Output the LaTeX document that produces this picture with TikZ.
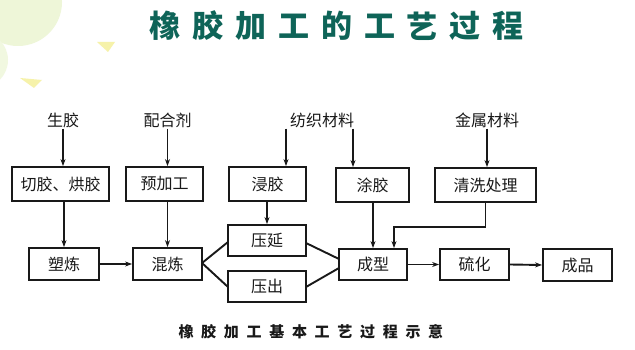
\documentclass[tikz,border=0pt]{standalone}
\usepackage{fontspec}
\newfontfamily\cjk{Noto Sans CJK SC}
\usetikzlibrary{arrows.meta}
\definecolor{titlec}{RGB}{14,100,88}
\definecolor{ink}{RGB}{25,25,25}
\definecolor{palegreen}{RGB}{238,246,216}
\definecolor{paleyellow}{RGB}{246,242,170}
\tikzset{
  stepbox/.style={draw=ink, line width=1.8pt, inner sep=0pt, text=ink,
    font=\cjk\fontsize{16}{16}\selectfont},
  lbl/.style={text=ink, inner sep=1pt, font=\cjk\fontsize{16}{16}\selectfont},
  conn/.style={draw=ink, line width=1.9pt},
  arr/.style={conn, -{Stealth[length=7pt,width=5pt]}},
  ttl/.style={text=titlec, inner sep=0pt, font=\cjk\bfseries\fontsize{31}{31}\selectfont},
  captxt/.style={text=ink, inner sep=0pt, font=\cjk\bfseries\fontsize{15}{15}\selectfont}
}
\begin{document}
\begin{tikzpicture}[x=1pt,y=-1pt]
\useasboundingbox (0,0) rectangle (635,350);
\fill[white] (0,0) rectangle (635,350);
% background decoration
\begin{scope}
\clip (0,0) rectangle (635,350);
\fill[palegreen] (18,2) circle (44);
\fill[palegreen!80] (-20,60) circle (28);
\fill[paleyellow] (97,42) -- (115,42) -- (108,52) -- cycle;
\fill[paleyellow] (20,78) -- (42,80) -- (34,88) -- cycle;
\end{scope}
% title
\foreach \c [count=\i from 0] in {橡,胶,加,工,的,工,艺,过,程}
  \node[ttl] (t\i) at (165+\i*42.9,26) {\c};
% caption
\foreach \c [count=\i from 0] in {橡,胶,加,工,基,本,工,艺,过,程,示,意}
  \node[captxt] (c\i) at (186+\i*22.7,332) {\c};
% top labels
\node[lbl] (l1) at (63,120) {生胶};
\node[lbl] (l2) at (167.5,120) {配合剂};
\node[lbl] (l3) at (322,120) {纺织材料};
\node[lbl] (l4) at (487,120) {金属材料};
% boxes
\node[stepbox, minimum width=97pt, minimum height=34pt] (b1) at (60.5,184) {切胶、烘胶};
\node[stepbox, minimum width=77pt, minimum height=34pt] (b2) at (164.5,184) {预加工};
\node[stepbox, minimum width=77pt, minimum height=34pt] (b3) at (267.5,184) {浸胶};
\node[stepbox, minimum width=73pt, minimum height=34pt] (b4) at (372.5,185) {涂胶};
\node[stepbox, minimum width=101pt, minimum height=34pt] (b5) at (485.5,185) {清洗处理};
\node[stepbox, minimum width=70pt, minimum height=32pt] (b6) at (64,264) {塑炼};
\node[stepbox, minimum width=69pt, minimum height=32pt] (b7) at (167.5,264) {混炼};
\node[stepbox, minimum width=78pt, minimum height=31pt] (b8) at (267,240.5) {压延};
\node[stepbox, minimum width=78pt, minimum height=31pt] (b9) at (267,286.5) {压出};
\node[stepbox, minimum width=68pt, minimum height=31pt] (b10) at (373,264.5) {成型};
\node[stepbox, minimum width=69pt, minimum height=31pt] (b11) at (474.5,264.5) {硫化};
\node[stepbox, minimum width=69pt, minimum height=32pt] (b12) at (577.5,265) {成品};
% helper coordinates
\coordinate (x3) at (286,0);
\coordinate (x4) at (353,0);
\coordinate (k) at (394,227);
\coordinate (m7) at (202,263);
\coordinate (p8) at (228,242);
\coordinate (p9) at (228,287);
\coordinate (q8) at (306,243);
\coordinate (q9) at (306,287);
\coordinate (r8) at (339,259);
\coordinate (r9) at (339,268);
% connectors
\draw[arr] (l1.south) -- (l1.south |- b1.north);
\draw[arr] (b6.north |- b1.south) -- (b6.north);
\draw[arr] (l2.south) -- (l2.south |- b2.north);
\draw[arr] (b7.north |- b2.south) -- (b7.north);
\draw[arr] (l3.south -| x3) -- (x3 |- b3.north);
\draw[arr] (l3.south -| x4) -- (x4 |- b4.north);
\draw[arr] (b8.north |- b3.south) -- (b8.north);
\draw[arr] (l4.south) -- (l4.south |- b5.north);
\draw[arr] (b10.north |- b4.south) -- (b10.north);
\draw[arr] (b5.south) |- (k) -- (k |- b10.north);
\draw[arr] (b6.east) -- (b7.west);
\draw[conn] (m7) -- (p8);
\draw[conn] (m7) -- (p9);
\draw[conn] (q8) -- (r8);
\draw[conn] (q9) -- (r9);
\draw[arr] (b10.east) -- (b11.west);
\draw[arr] (b11.east) -- (b12.west);
\end{tikzpicture}
\end{document}
